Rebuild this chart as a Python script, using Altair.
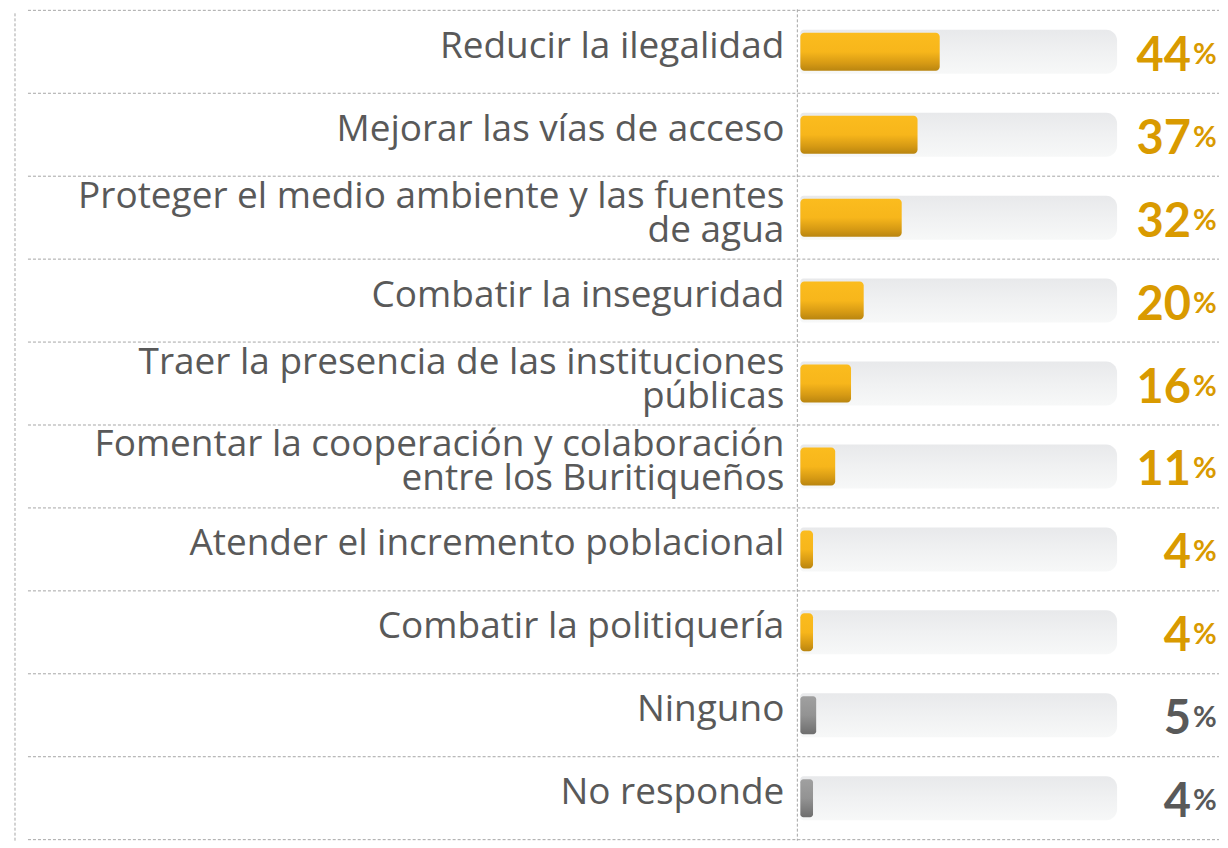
import altair as alt
import pandas as pd

labels = [
    "Reducir la ilegalidad",
    "Mejorar las vías de acceso",
    "Proteger el medio ambiente y las fuentes\nde agua",
    "Combatir la inseguridad",
    "Traer la presencia de las instituciones\npúblicas",
    "Fomentar la cooperación y colaboración\nentre los Buritiqueños",
    "Atender el incremento poblacional",
    "Combatir la politiquería",
    "Ninguno",
    "No responde",
]
values = [44, 37, 32, 20, 16, 11, 4, 4, 5, 4]
groups = ["main"] * 8 + ["other"] * 2
boundaries = list(range(11))

df = pd.DataFrame({"label": labels, "value": values, "group": groups})
df_b = pd.DataFrame({"b": boundaries})

W, H = 1212, 832
Y0, Y1 = 1, 831

yband = alt.Y("label:N", sort=labels, axis=None,
              scale=alt.Scale(domain=labels, range=[Y0, Y1], paddingInner=0, paddingOuter=0))
xscale = alt.Scale(domain=[0, 100], range=[793, 1110])

base = alt.Chart(df)

track_grad = alt.Gradient(
    gradient="linear", x1=0, x2=0, y1=0, y2=1,
    stops=[alt.GradientStop(color="#E8E9EB", offset=0),
           alt.GradientStop(color="#F0F1F2", offset=0.5),
           alt.GradientStop(color="#F7F8F8", offset=1)])
gold_grad = alt.Gradient(
    gradient="linear", x1=0, x2=0, y1=0, y2=1,
    stops=[alt.GradientStop(color="#FBBC1E", offset=0),
           alt.GradientStop(color="#F7B61B", offset=0.5),
           alt.GradientStop(color="#D69A14", offset=0.8),
           alt.GradientStop(color="#B98510", offset=1)])
gray_grad = alt.Gradient(
    gradient="linear", x1=0, x2=0, y1=0, y2=1,
    stops=[alt.GradientStop(color="#A0A0A0", offset=0),
           alt.GradientStop(color="#939393", offset=0.5),
           alt.GradientStop(color="#6E6E6E", offset=1)])

track = base.transform_calculate(t0="0", t1="100").mark_bar(
    height=44, color=track_grad, cornerRadiusTopRight=11,
    cornerRadiusBottomRight=11, cornerRadiusTopLeft=3, cornerRadiusBottomLeft=3
).encode(
    x=alt.X("t0:Q", scale=xscale, axis=None),
    x2="t1:Q",
    y=yband,
)

gold = base.transform_filter(alt.datum.group == "main").transform_calculate(z="0").mark_bar(
    height=38, color=gold_grad, cornerRadius=4
).encode(
    x=alt.X("z:Q", scale=xscale, axis=None),
    x2="value:Q",
    y=yband,
)

gray = base.transform_filter(alt.datum.group == "other").transform_calculate(z="0").mark_bar(
    height=38, color=gray_grad, cornerRadius=3
).encode(
    x=alt.X("z:Q", scale=xscale, axis=None),
    x2="value:Q",
    y=yband,
)

label_style = dict(align="right", baseline="middle", font="Open Sans", fontSize=37,
                   color="#595959", lineBreak="\n", lineHeight=34)

label_one = base.transform_filter("indexof(datum.label, '\\n') < 0").mark_text(
    dy=-5, **label_style
).encode(
    x=alt.value(777),
    y=yband,
    text="label:N",
)

label_two = base.transform_filter("indexof(datum.label, '\\n') >= 0").mark_text(
    dy=-21, **label_style
).encode(
    x=alt.value(777),
    y=yband,
    text="label:N",
)

num_color = alt.Color("group:N", scale=alt.Scale(domain=["main", "other"],
                                                 range=["#D99A00", "#595959"]),
                      legend=None)

num_text = base.mark_text(
    align="right", baseline="alphabetic", font="Lato", fontSize=47,
    fontWeight="bold", dy=19
).encode(
    x=alt.value(1184),
    y=yband,
    text="value:N",
    color=num_color,
)

pct_text = base.mark_text(
    align="left", baseline="alphabetic", font="Lato", fontSize=29,
    fontWeight="bold", dy=12, text="%"
).encode(
    x=alt.value(1186),
    y=yband,
    color=num_color,
)

hrules = alt.Chart(df_b).mark_rule(
    color="#A6A6A6", strokeDash=[3, 2], strokeWidth=1
).encode(
    y=alt.Y("b:Q", axis=None, scale=alt.Scale(domain=[0, 10], range=[Y0, Y1], nice=False, zero=False)),
    x=alt.value(20),
    x2=alt.value(W),
)

vrule_mid = alt.Chart(df_b).transform_filter(alt.datum.b == 0).mark_rule(
    color="#A6A6A6", strokeDash=[3, 2], strokeWidth=1
).encode(x=alt.value(790), y=alt.value(0), y2=alt.value(H))

vrule_left = alt.Chart(df_b).transform_filter(alt.datum.b == 0).mark_rule(
    color="#A6A6A6", strokeDash=[3, 2], strokeWidth=1
).encode(x=alt.value(7), y=alt.value(4), y2=alt.value(H))

chart = alt.layer(
    hrules, vrule_mid, vrule_left, track, gold, gray, label_one, label_two, num_text, pct_text
).resolve_scale(y="independent").properties(
    width=W, height=H, padding=0
).configure_view(stroke=None)

chart.save("out.html", embed_options={"renderer": "svg", "actions": False})
